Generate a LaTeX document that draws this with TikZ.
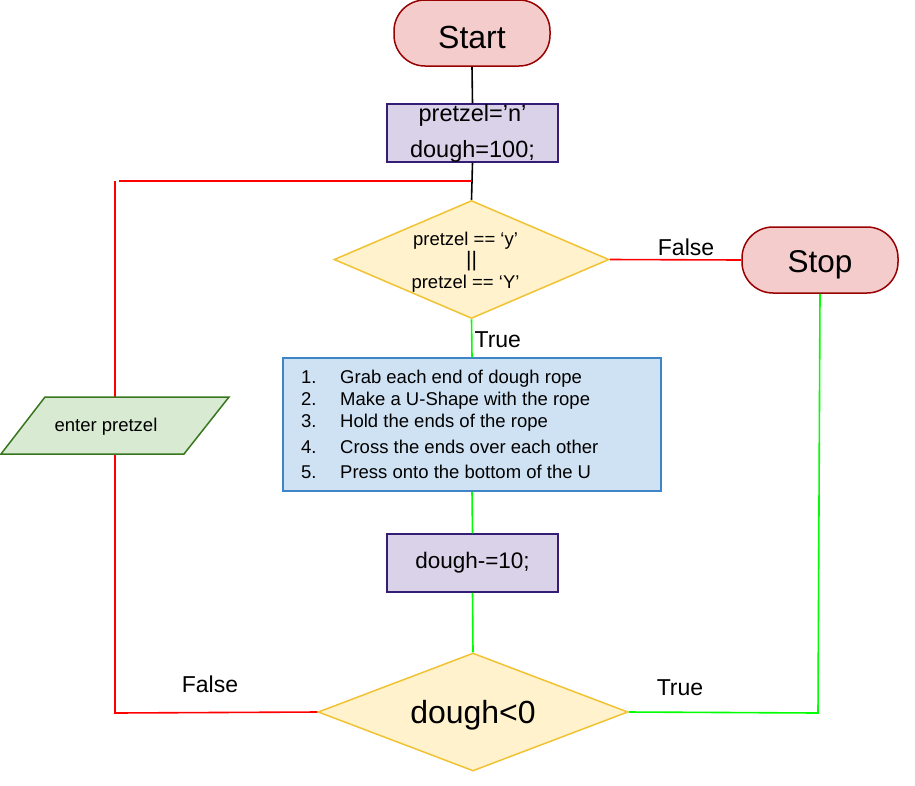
\documentclass[tikz,border=0pt]{standalone}
\usepackage{fontspec}
\setmainfont{Liberation Sans}
\usetikzlibrary{shapes.geometric}
\definecolor{termfill}{HTML}{F4CCCC}
\definecolor{termdraw}{HTML}{990000}
\definecolor{procfill}{HTML}{D9D2E9}
\definecolor{procdraw}{HTML}{351C75}
\definecolor{decfill}{HTML}{FFF2CC}
\definecolor{decdraw}{HTML}{F1C232}
\definecolor{listfill}{HTML}{CFE2F3}
\definecolor{listdraw}{HTML}{3D85C6}
\definecolor{iofill}{HTML}{D9EAD3}
\definecolor{iodraw}{HTML}{38761D}
\definecolor{linered}{HTML}{FF0000}
\definecolor{linegreen}{HTML}{00FF00}
\tikzset{
  term/.style={draw=termdraw, fill=termfill, line width=1.5pt, rounded corners=31pt,
    minimum width=156pt, minimum height=66pt, inner sep=0pt, text depth=0pt},
  proc/.style={draw=procdraw, fill=procfill, line width=1.5pt, minimum width=171pt,
    inner sep=0pt, align=center},
  dec/.style={draw=decdraw, fill=decfill, line width=1.5pt, diamond, inner sep=0pt, align=center},
  listbox/.style={draw=listdraw, fill=listfill, line width=1.5pt, minimum width=378pt,
    minimum height=133pt, inner sep=0pt},
  steptext/.style={anchor=base west, inner sep=0pt, font=\fontsize{18.5}{21}\selectfont},
  edgelabel/.style={inner sep=0pt, font=\fontsize{23}{27}\selectfont},
  blk/.style={draw=black, line width=1.6pt},
  red/.style={draw=linered, line width=1.6pt},
  grn/.style={draw=linegreen, line width=1.6pt},
}
\begin{document}
\begin{tikzpicture}[x=1pt,y=-1pt]
\useasboundingbox (0,0) rectangle (915,785);
% coordinates for the loop-back path
\coordinate (lt) at (115,181);
\coordinate (ls) at (119,181);
\coordinate (lj) at (472,181);
\coordinate (lb) at (115,713);
\coordinate (rb) at (818,713);
% nodes
\node[term, text height=30pt, font=\fontsize{32}{36}\selectfont] (start) at (472,33) {Start};
\node[proc, minimum height=58pt, font=\fontsize{23.5}{36}\selectfont] (init) at (472.5,133) {pretzel=’n’\\dough=100;};
\node[dec, minimum width=275pt, minimum height=118pt, shape aspect=2.33,
  font=\fontsize{18.5}{21.5}\selectfont] (d1) at (471.5,259.5) {\rule{0pt}{18pt}pretzel == ‘y’\hspace*{12pt}\\{\fontsize{21}{21.5}\selectfont ||}\hspace*{12pt}\\pretzel == ‘Y’\hspace*{12pt}};
\node[term, text height=25.4pt, font=\fontsize{31.5}{36}\selectfont] (stop) at (820,260) {Stop};
\node[listbox] (steps) at (472,424.5) {};
\node[steptext] (s1) at (301,383) {\makebox[39pt][l]{1.}Grab each end of dough rope};
\node[steptext] (s2) at (301,405) {\makebox[39pt][l]{2.}Make a U-Shape with the rope};
\node[steptext] (s3) at (301,427) {\makebox[39pt][l]{3.}Hold the ends of the rope};
\node[steptext] (s4) at (301,453) {\makebox[39pt][l]{4.}Cross the ends over each other};
\node[steptext] (s5) at (301,478) {\makebox[39pt][l]{5.}Press onto the bottom of the U};
\node[proc, minimum height=58pt, font=\fontsize{22.5}{27}\selectfont] (dec10) at (472.5,563) {dough-=10;};
\node[dec, minimum width=310pt, minimum height=118pt, shape aspect=2.63,
  font=\fontsize{32}{36}\selectfont, text depth=0pt] (d2) at (473,712) {dough<0};
% connectors
\draw[blk] (start.south) -- (init.north);
\draw[blk] (init.south) -- (d1.north);
\draw[red] (d1.east) -- node[edgelabel, above=3pt, pos=0.58] (f1) {False} (stop.west);
\draw[grn] (d1.south) -- node[edgelabel, right=2pt, pos=0.55] (t1) {True} (steps.north);
\draw[grn] (steps.south) -- (dec10.north);
\draw[grn] (dec10.south) -- (d2.north);
\draw[grn] (stop.south) -- (rb) -- (d2.east);
\draw[red] (d2.west) -- (lb) -- (lt);
\draw[red] (ls) -- (lj);
% input parallelogram (drawn over the red line)
\coordinate (p1) at (45,397);
\coordinate (p2) at (229,397);
\coordinate (p3) at (184,454);
\coordinate (p4) at (1,454);
\draw[draw=iodraw, fill=iofill, line width=1.5pt] (p1) -- (p2) -- (p3) -- (p4) -- cycle;
\node[inner sep=0pt, font=\fontsize{18.5}{21}\selectfont] (input) at (106,427) {enter pretzel};
\node[edgelabel] (f2) at (210,684) {False};
\node[edgelabel] (t2) at (680,688) {True};
\end{tikzpicture}
\end{document}
